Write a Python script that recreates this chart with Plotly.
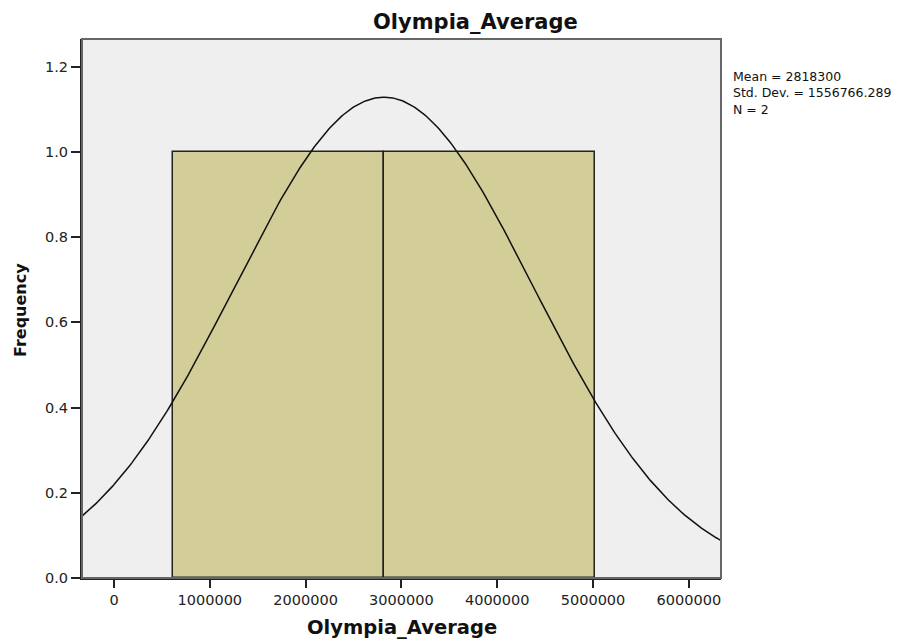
import numpy as np
import plotly.graph_objects as go

# Data
values = [1717500, 3919100]
mean_val = 2818300
std_val = 1556766.289
n_val = 2
bin_edges = [616700, 2818300, 5019900]
x_ticks = [0, 1000000, 2000000, 3000000, 4000000, 5000000, 6000000]
y_ticks = [0.0, 0.2, 0.4, 0.6, 0.8, 1.0, 1.2]
stats_lines = [f"Mean = {mean_val}", f"Std. Dev. = {std_val}", f"N = {n_val}"]

counts, _ = np.histogram(values, bins=bin_edges)
centers = [(bin_edges[i] + bin_edges[i + 1]) / 2 for i in range(len(bin_edges) - 1)]
widths = [bin_edges[i + 1] - bin_edges[i] for i in range(len(bin_edges) - 1)]

x_range = [-334000, 6336000]
xs = np.linspace(x_range[0], x_range[1], 400)
bw = widths[0]
ys = n_val * bw / (std_val * np.sqrt(2 * np.pi)) * np.exp(-0.5 * ((xs - mean_val) / std_val) ** 2)

fig = go.Figure()
fig.add_trace(go.Bar(x=centers, y=counts, width=widths,
                     marker=dict(color="#d3ce97", line=dict(color="#222222", width=1.5)),
                     showlegend=False, hoverinfo="skip"))
fig.add_trace(go.Scatter(x=xs, y=ys, mode="lines", line=dict(color="#111111", width=1.5),
                         showlegend=False, hoverinfo="skip"))

font = "DejaVu Sans, Verdana, sans-serif"
L, R, T, B = 82, 721, 39, 578
W, H = 918, 642
pw, ph = R - L, B - T

def px(x):
    return (x - L) / pw

def py(y):
    return (B - y) / ph

annotations = [
    dict(text="<b>Olympia_Average</b>", xref="paper", yref="paper", x=px(475), y=py(22),
         xanchor="center", yanchor="middle", showarrow=False,
         font=dict(size=21, color="#111111", family=font)),
    dict(text="<b>Olympia_Average</b>", xref="paper", yref="paper", x=px(402), y=py(627),
         xanchor="center", yanchor="middle", showarrow=False,
         font=dict(size=19.5, color="#111111", family=font)),
    dict(text="<b>Frequency</b>", xref="paper", yref="paper", x=px(20), y=py(310),
         xanchor="center", yanchor="middle", textangle=-90, showarrow=False,
         font=dict(size=16, color="#111111", family=font)),
    dict(text="<br>".join(stats_lines), xref="paper", yref="paper", x=px(731), y=py(67),
         xanchor="left", yanchor="top", align="left", showarrow=False,
         font=dict(size=12.5, color="#111111", family=font)),
]

fig.update_layout(
    width=W, height=H,
    margin=dict(l=L, r=W - R, t=T, b=H - B),
    paper_bgcolor="white", plot_bgcolor="#efefef",
    font=dict(family=font, size=14, color="#222222"),
    bargap=0,
    xaxis=dict(range=x_range, tickvals=x_ticks, ticktext=[str(v) for v in x_ticks],
               ticks="outside", ticklen=8, tickwidth=1.5, tickcolor="#222222", showgrid=False,
               zeroline=False, showline=True, linecolor="#222222", linewidth=2,
               tickfont=dict(size=14.5, color="#222222")),
    yaxis=dict(range=[0, 1.265], tickvals=y_ticks, ticktext=[f"{v:.1f}" for v in y_ticks],
               ticks="outside", ticklen=9, tickwidth=1.5, tickcolor="#222222", showgrid=False,
               zeroline=False, showline=True, linecolor="#222222", linewidth=2,
               tickfont=dict(size=14.5, color="#222222")),
    shapes=[dict(type="rect", xref="paper", yref="paper", x0=0, y0=0, x1=1, y1=1,
                 line=dict(color="#666666", width=2), fillcolor="rgba(0,0,0,0)", layer="above")],
    annotations=annotations,
)
fig.update_xaxes(layer="above traces")
fig.update_yaxes(layer="above traces")

fig.write_html("out.html")
